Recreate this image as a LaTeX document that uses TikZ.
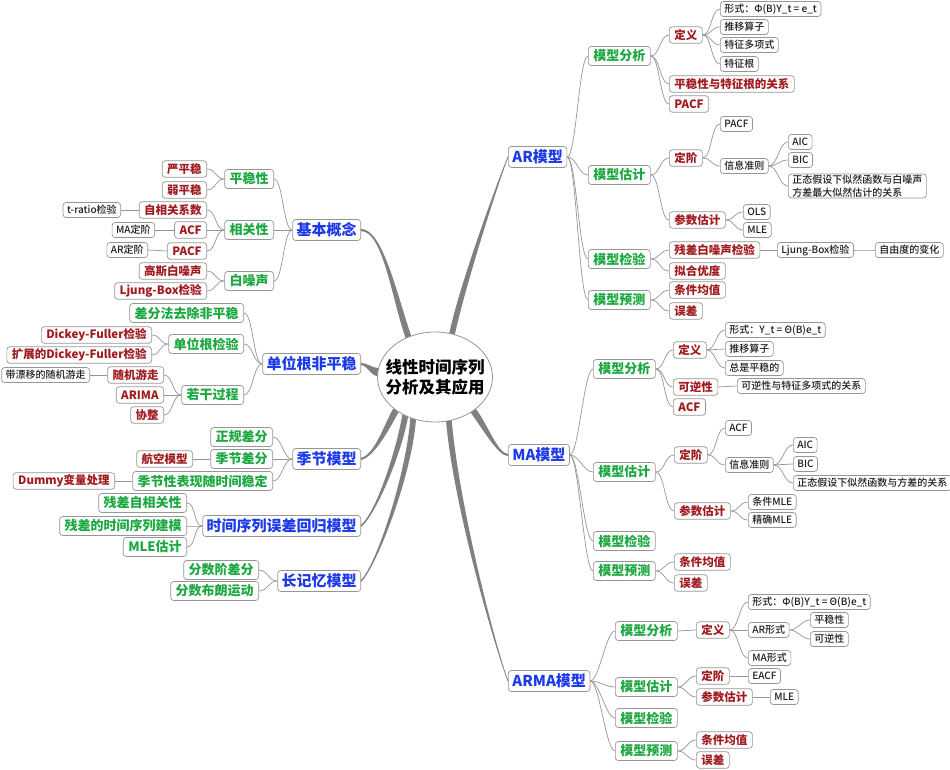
\documentclass[tikz,border=0pt]{standalone}
\usepackage{fontspec}
\setmainfont{Noto Sans CJK SC}
\newfontfamily\leaffont{Noto Sans CJK SC Medium}
\usetikzlibrary{shapes.geometric}

\definecolor{mapblue}{RGB}{28,58,232}
\definecolor{mapgreen}{RGB}{28,168,64}
\definecolor{mapred}{RGB}{160,26,30}
\definecolor{mapink}{RGB}{30,30,30}
\definecolor{mapline}{RGB}{150,150,150}
\definecolor{maptrunk}{RGB}{128,128,128}

% tapered branch: #1,#2 angles on the root ellipse, #3,#4 control offsets, #5 target anchor
\newcommand\thickbranch[5]{%
  \fill[maptrunk] (root.#1) .. controls +(#3) and +(#4) .. ([yshift=1.1pt]#5)
    -- ([yshift=-1.1pt]#5) .. controls +(#4) and +(#3) .. (root.#2) -- cycle;}

\begin{document}
\begin{tikzpicture}[x=1pt,y=-1pt,
    box/.style={draw=mapline, line width=0.7pt, rounded corners=3pt, fill=white, inner ysep=1pt},
    lvone/.style={box, text=mapblue, font=\fontsize{15}{17}\selectfont\bfseries, inner xsep=4pt, minimum height=21pt},
    lvtwo/.style={box, text=mapgreen, font=\fontsize{13}{15}\selectfont\bfseries, inner xsep=5pt, minimum height=19pt},
    lvthree/.style={box, text=mapred, font=\fontsize{11.5}{13}\selectfont\bfseries, inner xsep=5pt, minimum height=16.5pt},
    leaf/.style={box, text=mapink, font=\fontsize{10}{12.5}\selectfont\leaffont, inner xsep=4pt, minimum height=15pt},
    rootshape/.style={ellipse, draw=mapline, line width=0.8pt, fill=white, minimum width=115pt, minimum height=90pt, inner sep=0pt},
    title/.style={align=center, font=\fontsize{16.5}{20}\selectfont\bfseries, text=black},
    rlink/.style={draw=mapline, line width=0.7pt, to path={.. controls +(9,0) and +(-9,0) .. (\tikztotarget)}},
    llink/.style={draw=mapline, line width=0.7pt, to path={.. controls +(-9,0) and +(9,0) .. (\tikztotarget)}}]

    % Canvas
    \path[fill=white, use as bounding box] (0,0) rectangle (950,770);

    % Centre
    \node[rootshape] (root) at (435,377) {};
    \node[title] (rootText) at (root) {线性时间序列\\分析及其应用};

    % ---------------- right side ----------------
    \begin{scope}[every node/.append style={anchor=west}]
    % AR model
    \node[lvone] (ar) at (508,157) {AR模型};
    \node[lvtwo] (arA) at (588,56) {模型分析};
    \node[lvthree] (arAdef) at (669,35) {定义};
    \node[leaf] (arAdef1) at (720,9) {形式：Φ(B)Y\_t = e\_t};
    \node[leaf] (arAdef2) at (720,27) {推移算子};
    \node[leaf] (arAdef3) at (720,45) {特征多项式};
    \node[leaf] (arAdef4) at (720,64) {特征根};
    \node[lvthree] (arAroot) at (669,84) {平稳性与特征根的关系};
    \node[lvthree] (arApacf) at (669,104) {PACF};
    \node[lvtwo] (arE) at (588,175) {模型估计};
    \node[lvthree] (arEord) at (669,158) {定阶};
    \node[leaf] (arEord1) at (720,124) {PACF};
    \node[leaf] (arEic) at (720,166) {信息准则};
    \node[leaf] (arEic1) at (788,142) {AIC};
    \node[leaf] (arEic2) at (788,160) {BIC};
    \node[leaf, align=left] (arEic3) at (788,186) {正态假设下似然函数与白噪声\\方差最大似然估计的关系};
    \node[lvthree] (arEpar) at (669,220) {参数估计};
    \node[leaf] (arEpar1) at (743,212) {OLS};
    \node[leaf] (arEpar2) at (743,230) {MLE};
    \node[lvtwo] (arT) at (588,259) {模型检验};
    \node[lvthree] (arTres) at (669,250) {残差白噪声检验};
    \node[leaf] (arTlb) at (777,250) {Ljung-Box检验};
    \node[leaf] (arTdf) at (875,250) {自由度的变化};
    \node[lvthree] (arTfit) at (669,271) {拟合优度};
    \node[lvtwo] (arP) at (588,300) {模型预测};
    \node[lvthree] (arPmean) at (669,290) {条件均值};
    \node[lvthree] (arPerr) at (669,311) {误差};

    % MA model
    \node[lvone] (ma) at (508,455) {MA模型};
    \node[lvtwo] (maA) at (593,369) {模型分析};
    \node[lvthree] (maAdef) at (673,350) {定义};
    \node[leaf] (maAdef1) at (725,330) {形式：Y\_t = Θ(B)e\_t};
    \node[leaf] (maAdef2) at (725,349) {推移算子};
    \node[leaf] (maAdef3) at (725,368) {总是平稳的};
    \node[lvthree] (maAinv) at (673,387) {可逆性};
    \node[leaf] (maAinv1) at (737,386) {可逆性与特征多项式的关系};
    \node[lvthree] (maAacf) at (673,407) {ACF};
    \node[lvtwo] (maE) at (593,472) {模型估计};
    \node[lvthree] (maEord) at (674,455) {定阶};
    \node[leaf] (maEord1) at (725,428) {ACF};
    \node[leaf] (maEic) at (725,465) {信息准则};
    \node[leaf] (maEic1) at (793,445) {AIC};
    \node[leaf] (maEic2) at (793,464) {BIC};
    \node[leaf] (maEic3) at (793,483) {正态假设下似然函数与方差的关系};
    \node[lvthree] (maEpar) at (674,511) {参数估计};
    \node[leaf] (maEpar1) at (748,502) {条件MLE};
    \node[leaf] (maEpar2) at (748,520) {精确MLE};
    \node[lvtwo] (maT) at (593,541) {模型检验};
    \node[lvtwo] (maP) at (593,571) {模型预测};
    \node[lvthree] (maPmean) at (674,562) {条件均值};
    \node[lvthree] (maPerr) at (674,583) {误差};

    % ARMA model
    \node[lvone] (arma) at (508,681) {ARMA模型};
    \node[lvtwo] (armaA) at (615,631) {模型分析};
    \node[lvthree] (armaAdef) at (696,630) {定义};
    \node[leaf] (armaAdef1) at (748,602) {形式：Φ(B)Y\_t = Θ(B)e\_t};
    \node[leaf] (armaAar) at (748,630) {AR形式};
    \node[leaf] (armaAar1) at (810,620) {平稳性};
    \node[leaf] (armaAar2) at (810,639) {可逆性};
    \node[leaf] (armaAma) at (748,658) {MA形式};
    \node[lvtwo] (armaE) at (615,687) {模型估计};
    \node[lvthree] (armaEord) at (696,676) {定阶};
    \node[leaf] (armaEord1) at (748,676) {EACF};
    \node[lvthree] (armaEpar) at (696,697) {参数估计};
    \node[leaf] (armaEpar1) at (770,697) {MLE};
    \node[lvtwo] (armaT) at (615,718) {模型检验};
    \node[lvtwo] (armaP) at (615,751) {模型预测};
    \node[lvthree] (armaPmean) at (696,740) {条件均值};
    \node[lvthree] (armaPerr) at (696,760) {误差};
    \end{scope}

    % ---------------- left side ----------------
    \begin{scope}[every node/.append style={anchor=east}]
    % Basic concepts
    \node[lvone] (basic) at (361,230) {基本概念};
    \node[lvtwo] (bsS) at (274,179) {平稳性};
    \node[lvthree] (bsS1) at (207,169) {严平稳};
    \node[lvthree] (bsS2) at (207,190) {弱平稳};
    \node[lvtwo] (bsC) at (274,230) {相关性};
    \node[lvthree] (bsC1) at (207,210) {自相关系数};
    \node[leaf] (bsC1a) at (121,210) {t-ratio检验};
    \node[lvthree] (bsC2) at (207,230) {ACF};
    \node[leaf] (bsC2a) at (155,230) {MA定阶};
    \node[lvthree] (bsC3) at (207,251) {PACF};
    \node[leaf] (bsC3a) at (148,250) {AR定阶};
    \node[lvtwo] (bsW) at (274,281) {白噪声};
    \node[lvthree] (bsW1) at (207,271) {高斯白噪声};
    \node[lvthree] (bsW2) at (207,291) {Ljung-Box检验};

    % Unit root
    \node[lvone] (unit) at (361,364) {单位根非平稳};
    \node[lvtwo] (utD) at (244,313) {差分法去除非平稳};
    \node[lvtwo] (utT) at (244,344) {单位根检验};
    \node[lvthree] (utT1) at (152,335) {Dickey-Fuller检验};
    \node[lvthree] (utT2) at (152,355) {扩展的Dickey-Fuller检验};
    \node[lvtwo] (utP) at (244,395) {若干过程};
    \node[lvthree] (utP1) at (164,375) {随机游走};
    \node[leaf] (utP1a) at (90,375) {带漂移的随机游走};
    \node[lvthree] (utP2) at (164,395) {ARIMA};
    \node[lvthree] (utP3) at (164,415) {协整};

    % Seasonal model
    \node[lvone] (season) at (361,459) {季节模型};
    \node[lvtwo] (snR) at (273,437) {正规差分};
    \node[lvtwo] (snS) at (273,459) {季节差分};
    \node[lvthree] (snSa) at (193,459) {航空模型};
    \node[lvtwo] (snV) at (273,481) {季节性表现随时间稳定};
    \node[lvthree] (snVa) at (115,481) {Dummy变量处理};

    % Regression with time series errors
    \node[lvone] (reg) at (361,526) {时间序列误差回归模型};
    \node[lvtwo] (rgA) at (187,503) {残差自相关性};
    \node[lvtwo] (rgB) at (187,526) {残差的时间序列建模};
    \node[lvtwo] (rgC) at (187,547) {MLE估计};

    % Long memory
    \node[lvone] (long) at (361,581) {长记忆模型};
    \node[lvtwo] (lgA) at (259,570) {分数阶差分};
    \node[lvtwo] (lgB) at (259,591) {分数布朗运动};
    \end{scope}

    % Main branches
    \thickbranch{72}{65}{12,-55}{-6,14}{ar.west}
    \thickbranch{322}{315}{12,16}{-10,0}{ma.west}
    \thickbranch{291}{284}{8,90}{-10,-25}{arma.west}
    \thickbranch{120}{127}{-14,-40}{22,0}{basic.east}
    \thickbranch{171}{179}{-6,0}{6,0}{unit.east}
    \thickbranch{217}{224}{-10,18}{14,-4}{season.east}
    \thickbranch{229}{236}{-6,35}{16,-14}{reg.east}
    \thickbranch{239}{246}{-4,55}{16,-16}{long.east}

    % Links, right side
    \foreach \c in {arA,arE,arT,arP} \draw[rlink] (ar.east) to (\c.west);
    \foreach \c in {arAdef,arAroot,arApacf} \draw[rlink] (arA.east) to (\c.west);
    \foreach \c in {arAdef1,arAdef2,arAdef3,arAdef4} \draw[rlink] (arAdef.east) to (\c.west);
    \foreach \c in {arEord,arEpar} \draw[rlink] (arE.east) to (\c.west);
    \foreach \c in {arEord1,arEic} \draw[rlink] (arEord.east) to (\c.west);
    \foreach \c in {arEic1,arEic2,arEic3} \draw[rlink] (arEic.east) to (\c.west);
    \foreach \c in {arEpar1,arEpar2} \draw[rlink] (arEpar.east) to (\c.west);
    \foreach \c in {arTres,arTfit} \draw[rlink] (arT.east) to (\c.west);
    \draw[rlink] (arTres.east) to (arTlb.west);
    \draw[rlink] (arTlb.east) to (arTdf.west);
    \foreach \c in {arPmean,arPerr} \draw[rlink] (arP.east) to (\c.west);

    \foreach \c in {maA,maE,maT,maP} \draw[rlink] (ma.east) to (\c.west);
    \foreach \c in {maAdef,maAinv,maAacf} \draw[rlink] (maA.east) to (\c.west);
    \foreach \c in {maAdef1,maAdef2,maAdef3} \draw[rlink] (maAdef.east) to (\c.west);
    \draw[rlink] (maAinv.east) to (maAinv1.west);
    \foreach \c in {maEord,maEpar} \draw[rlink] (maE.east) to (\c.west);
    \foreach \c in {maEord1,maEic} \draw[rlink] (maEord.east) to (\c.west);
    \foreach \c in {maEic1,maEic2,maEic3} \draw[rlink] (maEic.east) to (\c.west);
    \foreach \c in {maEpar1,maEpar2} \draw[rlink] (maEpar.east) to (\c.west);
    \foreach \c in {maPmean,maPerr} \draw[rlink] (maP.east) to (\c.west);

    \foreach \c in {armaA,armaE,armaT,armaP} \draw[rlink] (arma.east) to (\c.west);
    \draw[rlink] (armaA.east) to (armaAdef.west);
    \foreach \c in {armaAdef1,armaAar,armaAma} \draw[rlink] (armaAdef.east) to (\c.west);
    \foreach \c in {armaAar1,armaAar2} \draw[rlink] (armaAar.east) to (\c.west);
    \foreach \c in {armaEord,armaEpar} \draw[rlink] (armaE.east) to (\c.west);
    \draw[rlink] (armaEord.east) to (armaEord1.west);
    \draw[rlink] (armaEpar.east) to (armaEpar1.west);
    \foreach \c in {armaPmean,armaPerr} \draw[rlink] (armaP.east) to (\c.west);

    % Links, left side
    \foreach \c in {bsS,bsC,bsW} \draw[llink] (basic.west) to (\c.east);
    \foreach \c in {bsS1,bsS2} \draw[llink] (bsS.west) to (\c.east);
    \foreach \c in {bsC1,bsC2,bsC3} \draw[llink] (bsC.west) to (\c.east);
    \draw[llink] (bsC1.west) to (bsC1a.east);
    \draw[llink] (bsC2.west) to (bsC2a.east);
    \draw[llink] (bsC3.west) to (bsC3a.east);
    \foreach \c in {bsW1,bsW2} \draw[llink] (bsW.west) to (\c.east);

    \foreach \c in {utD,utT,utP} \draw[llink] (unit.west) to (\c.east);
    \foreach \c in {utT1,utT2} \draw[llink] (utT.west) to (\c.east);
    \foreach \c in {utP1,utP2,utP3} \draw[llink] (utP.west) to (\c.east);
    \draw[llink] (utP1.west) to (utP1a.east);

    \foreach \c in {snR,snS,snV} \draw[llink] (season.west) to (\c.east);
    \draw[llink] (snS.west) to (snSa.east);
    \draw[llink] (snV.west) to (snVa.east);

    \foreach \c in {rgA,rgB,rgC} \draw[llink] (reg.west) to (\c.east);
    \foreach \c in {lgA,lgB} \draw[llink] (long.west) to (\c.east);
\end{tikzpicture}
\end{document}
